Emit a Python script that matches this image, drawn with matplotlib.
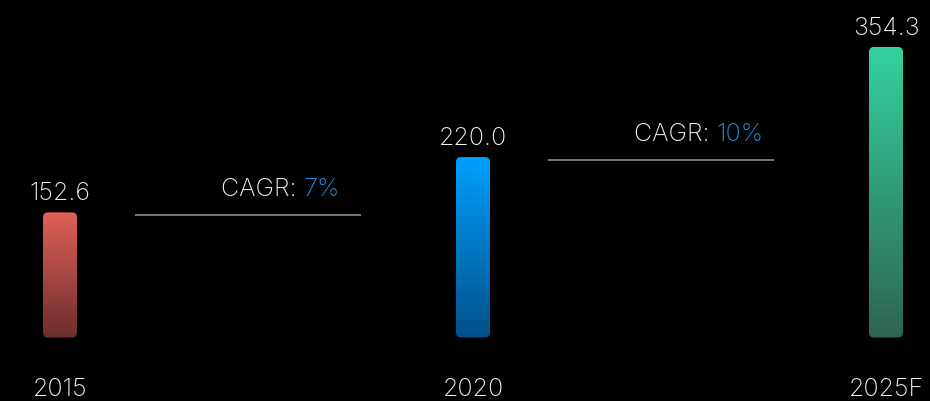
import numpy as np
import matplotlib
matplotlib.use("Agg")
import matplotlib.pyplot as plt
from matplotlib.colors import LinearSegmentedColormap
from matplotlib.patches import FancyBboxPatch
from matplotlib.transforms import ScaledTranslation

years = ["2015", "2020", "2025F"]
values = [152.6, 220.0, 354.3]
top_colors = ["#df6156", "#00a0fc", "#34d1a1"]
bottom_colors = ["#6c2d2d", "#00508a", "#2e6450"]
cagr_labels = ["7%", "10%"]

W, H, DPI = 930, 402, 100
px_per_x = 413.0      # pixels per category step
px_per_y = 0.82       # pixels per value unit
x_left_px = 60.0
base_px = 63.5        # baseline distance from bottom

plt.rcParams['font.family'] = ['Inter', 'DejaVu Sans']
fig = plt.figure(figsize=(W / DPI, H / DPI), dpi=DPI, facecolor="black")
ax = fig.add_axes([0, 0, 1, 1], facecolor="black")
ax.set_xlim(-x_left_px / px_per_x, (W - x_left_px) / px_per_x)
ax.set_ylim(-base_px / px_per_y, (H - base_px) / px_per_y)
ax.axis("off")

bar_w = 34 / px_per_x
radius = 5 / px_per_x
aspect = px_per_x / px_per_y
txt_color = "#f2f2f2"
fs = 18

for i, (v, c0, c1) in enumerate(zip(values, top_colors, bottom_colors)):
    x0 = i - bar_w / 2
    patch = FancyBboxPatch((x0, 0), bar_w, v,
                           boxstyle=f"round,pad=0,rounding_size={radius}",
                           mutation_aspect=aspect, facecolor="none",
                           edgecolor="none")
    ax.add_patch(patch)
    cmap = LinearSegmentedColormap.from_list(f"g{i}", [c1, c0])
    grad = np.linspace(0, 1, 256).reshape(-1, 1)
    im = ax.imshow(grad, cmap=cmap, origin="lower", aspect="auto",
                   extent=(x0, x0 + bar_w, 0, v), interpolation="bilinear")
    im.set_clip_path(patch)

    ax.annotate(f"{v:.1f}", xy=(i, v), xytext=(0, 9.5), textcoords="offset points",
                ha="center", va="baseline", color=txt_color, fontsize=fs,
                fontweight="light")
    ax.annotate(years[i], xy=(i, 0), xytext=(0, -41.5), textcoords="offset points",
                ha="center", va="baseline", color=txt_color, fontsize=fs,
                fontweight="light")

# CAGR lines between bars
shift = ax.transData + ScaledTranslation(0, -3 / DPI, fig.dpi_scale_trans)
for i, lab in enumerate(cagr_labels):
    y = values[i]
    ax.plot([i + 0.181, i + 0.729], [y, y], color="#8c8c8c", lw=1.2,
            transform=shift, solid_capstyle="butt")
    t = ax.annotate("CAGR: ", xy=(i + 0.39, y), xytext=(0, 12.5),
                    textcoords="offset points", ha="left", va="baseline",
                    color=txt_color, fontsize=fs, fontweight="light")
    ax.annotate(lab, xy=(1, 0), xycoords=t, ha="left", va="bottom",
                color="#1a8fe0", fontsize=fs, fontweight="light")

fig.savefig("out.png", dpi=DPI, facecolor="black")
